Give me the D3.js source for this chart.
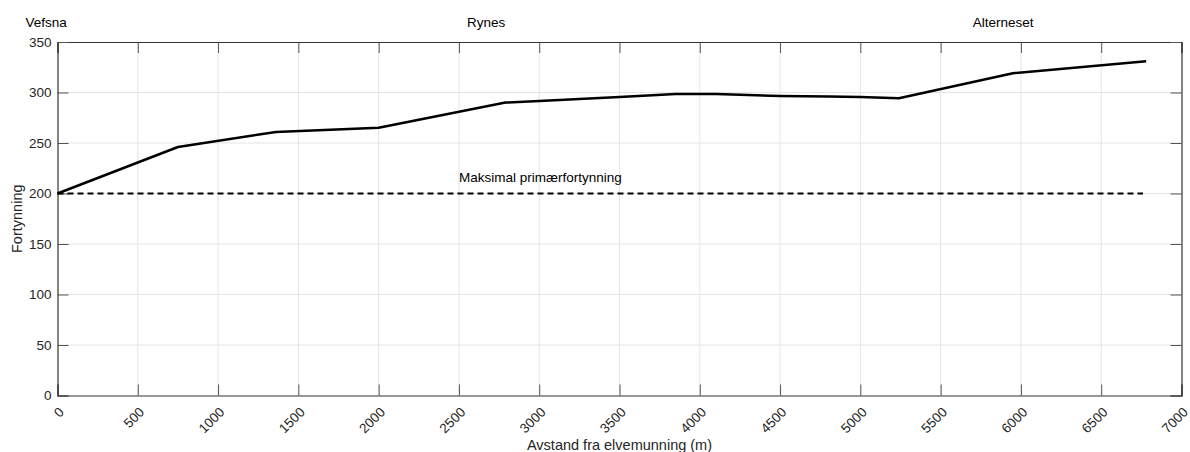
<!DOCTYPE html>
<html>
<head>
<meta charset="utf-8">
<script src="https://cdn.jsdelivr.net/npm/d3@7"></script>
<style>
  body { margin: 0; background: #fff; }
  svg { display: block; font-family: "Liberation Sans", Arial, sans-serif; }
</style>
</head>
<body>
<svg id="chart" width="1190" height="452"></svg>
<script>
// distanse fra elvemunning (m) og fortynning, lest av figuren
const distance = [0, 750, 1360, 2000, 2790, 3000, 3500, 3850, 4100, 4500, 4800, 5000, 5240, 5950, 6780]
const dilution = [200, 246, 261, 265, 290, 291.5, 295.5, 298.5, 298.5, 296.5, 296, 295.5, 294.3, 319, 331]

// maksimal primærfortynning (stiplet linje)
const limitX = [0, 6760]
const limitY = [200, 200]
const limitLabel = 'Maksimal primærfortynning'
const limitLabelPos = [2500, 211]

// stedsnavn over aksen
const placeNames = ['Vefsna', 'Rynes', 'Alterneset']
const placeX = [-200, 2550, 5700]

const xTicks = d3.range(0, 7001, 500)
const yTicks = d3.range(0, 351, 50)

const width = 1190
const height = 452
const margin = { top: 42, right: 8.5, bottom: 56.5, left: 57.5 }

const svg = d3.select('#chart')

const x = d3.scaleLinear().domain([0, 7000]).range([margin.left, width - margin.right])
const y = d3.scaleLinear().domain([0, 350]).range([height - margin.bottom, margin.top])

const axisColor = '#333'
const fontSize = '13.5px'

// rutenett
const grid = svg.append('g').attr('class', 'grid')
grid.selectAll('line.gx')
  .data(xTicks.slice(1, -1))
  .enter().append('line')
  .attr('x1', d => x(d)).attr('x2', d => x(d))
  .attr('y1', y(0)).attr('y2', y(350))
  .attr('stroke', '#e4e4e4').attr('stroke-width', 1)
grid.selectAll('line.gy')
  .data(yTicks.slice(1, -1))
  .enter().append('line')
  .attr('x1', x(0)).attr('x2', x(7000))
  .attr('y1', d => y(d)).attr('y2', d => y(d))
  .attr('stroke', '#e4e4e4').attr('stroke-width', 1)

// akser med innvendige tick-merker på alle sider
const tickLen = 11
const bottomAxis = svg.append('g')
  .attr('transform', `translate(0,${y(0)})`)
  .call(d3.axisBottom(x).tickValues(xTicks).tickSize(-tickLen).tickFormat(''))
const topAxis = svg.append('g')
  .attr('transform', `translate(0,${y(350)})`)
  .call(d3.axisTop(x).tickValues(xTicks).tickSize(-tickLen).tickFormat(''))
const leftAxis = svg.append('g')
  .attr('transform', `translate(${x(0)},0)`)
  .call(d3.axisLeft(y).tickValues(yTicks).tickSize(-tickLen).tickFormat(''))
const rightAxis = svg.append('g')
  .attr('transform', `translate(${x(7000)},0)`)
  .call(d3.axisRight(y).tickValues(yTicks).tickSize(-tickLen).tickFormat(''))

;[bottomAxis, topAxis, leftAxis, rightAxis].forEach(a => {
  a.select('.domain').attr('stroke', axisColor).attr('stroke-width', 1.2)
  a.selectAll('.tick line').attr('stroke', '#555').attr('stroke-width', 1)
})

// tick-etiketter
svg.append('g').selectAll('text')
  .data(yTicks)
  .enter().append('text')
  .attr('x', x(0) - 6)
  .attr('y', d => y(d))
  .attr('dy', '0.35em')
  .attr('text-anchor', 'end')
  .attr('font-size', fontSize)
  .attr('fill', '#262626')
  .text(d => d)

svg.append('g').selectAll('text')
  .data(xTicks)
  .enter().append('text')
  .attr('transform', d => `translate(${x(d) + 4},${y(0) + 14}) rotate(-45)`)
  .attr('dy', '0.35em')
  .attr('text-anchor', 'end')
  .attr('font-size', fontSize)
  .attr('fill', '#262626')
  .text(d => d)

// aksetitler
svg.append('text')
  .attr('x', (x(0) + x(7000)) / 2)
  .attr('y', height - 2)
  .attr('text-anchor', 'middle')
  .attr('font-size', '14.5px')
  .attr('fill', '#262626')
  .text('Avstand fra elvemunning (m)')

svg.append('text')
  .attr('transform', `translate(22,${(y(0) + y(350)) / 2}) rotate(-90)`)
  .attr('text-anchor', 'middle')
  .attr('font-size', '14.5px')
  .attr('fill', '#262626')
  .text('Fortynning')

// stiplet linje for maksimal primærfortynning
svg.append('path')
  .datum(limitX.map((d, i) => [d, limitY[i]]))
  .attr('d', d3.line().x(d => x(d[0])).y(d => y(d[1])))
  .attr('fill', 'none')
  .attr('stroke', '#000')
  .attr('stroke-width', 2)
  .attr('stroke-dasharray', '6,4')

svg.append('text')
  .attr('x', x(limitLabelPos[0]))
  .attr('y', y(limitLabelPos[1]))
  .attr('font-size', fontSize)
  .attr('fill', '#000')
  .text(limitLabel)

// fortynningskurve
svg.append('path')
  .datum(distance.map((d, i) => [d, dilution[i]]))
  .attr('d', d3.line().x(d => x(d[0])).y(d => y(d[1])))
  .attr('fill', 'none')
  .attr('stroke', '#000')
  .attr('stroke-width', 2.5)
  .attr('stroke-linejoin', 'round')

// stedsnavn
svg.append('g').selectAll('text')
  .data(placeNames)
  .enter().append('text')
  .attr('x', (d, i) => x(placeX[i]))
  .attr('y', 27)
  .attr('font-size', fontSize)
  .attr('fill', '#000')
  .text(d => d)
</script>
</body>
</html>
